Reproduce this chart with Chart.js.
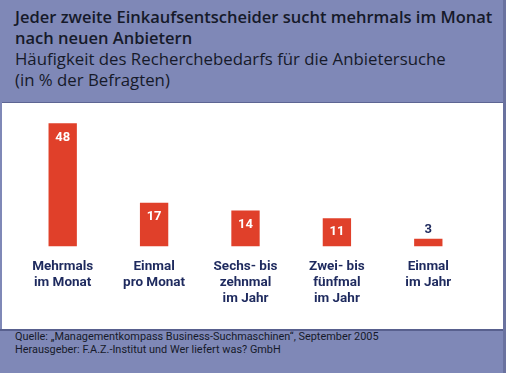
<!DOCTYPE html>
<html>
<head>
<meta charset="utf-8">
<script src="https://cdn.jsdelivr.net/npm/chart.js@4.4.1/dist/chart.umd.min.js"></script>
<style>
    body { margin: 0; background: #ffffff; }
    #frame {
        position: relative; width: 506px; height: 373px;
        background: #7f88b7; overflow: hidden;
        font-family: Roboto, "Noto Sans", sans-serif;
    }
    #head { position: absolute; left: 15px; top: 6px; color: #161a2a; font-family: "Open Sans", sans-serif;
            font-size: 16.8px; line-height: 21px; }
    #head .main { font-weight: 600; font-size: 16.5px; }
    #panel {
        position: absolute; left: 2px; top: 102px; width: 501px; height: 227px;
        background: #ffffff; border-top: 1px solid #5d6593;
    }
    #foot { position: absolute; top: 329px; left: 0; width: 491px; height: 44px; padding-left: 15px;
            border-top: 2px solid #58608e; color: #161a2a; font-size: 10.9px; line-height: 13px; }
    #foot .txt { position: relative; top: -1px; }
    #edge { position: absolute; left: 503px; top: 0; width: 3px; height: 373px; background: #6a729f; }
</style>
</head>
<body>
<div id="frame">
    <div id="head">
        <div class="main">Jeder zweite Einkaufsentscheider sucht mehrmals im Monat</div>
        <div class="main">nach neuen Anbietern</div>
        <div>Häufigkeit des Recherchebedarfs für die Anbietersuche</div>
        <div>(in % der Befragten)</div>
    </div>
    <div id="panel"><canvas id="chart"></canvas></div>
    <div id="foot"><div class="txt">
        <div>Quelle: „Managementkompass Business-Suchmaschinen“, September 2005</div>
        <div>Herausgeber: F.A.Z.-Institut und Wer liefert was? GmbH</div>
    </div></div>
    <div id="edge"></div>
</div>
<script>
// Data
const categories = [
    ['Mehrmals', 'im Monat'],
    ['Einmal', 'pro Monat'],
    ['Sechs- bis', 'zehnmal', 'im Jahr'],
    ['Zwei- bis', 'fünfmal', 'im Jahr'],
    ['Einmal', 'im Jahr']
];
const shares = [48, 17, 14, 11, 3];

const barRed = '#e0402a';
const navy = '#1e2a5e';

// Value labels: white inside tall bars, navy above the short one
const valueLabels = {
    id: 'valueLabels',
    afterDatasetsDraw(chart) {
        const ctx = chart.ctx;
        const meta = chart.getDatasetMeta(0);
        ctx.save();
        ctx.font = 'bold 13px Roboto, sans-serif';
        ctx.textAlign = 'center';
        ctx.textBaseline = 'middle';
        meta.data.forEach((bar, i) => {
            const v = shares[i];
            const h = bar.base - bar.y;
            if (h > 20) {
                ctx.fillStyle = '#ffffff';
                ctx.fillText(v, bar.x, bar.y + 14);
            } else {
                ctx.fillStyle = navy;
                ctx.fillText(v, bar.x, bar.y - 9);
            }
        });
        ctx.restore();
    }
};

const canvas = document.getElementById('chart');
canvas.width = 501;
canvas.height = 226;

new Chart(canvas, {
    type: 'bar',
    data: {
        labels: categories,
        datasets: [{
            data: shares,
            backgroundColor: barRed,
            borderWidth: 0,
            barPercentage: 0.31,
            categoryPercentage: 1
        }]
    },
    options: {
        responsive: false,
        animation: false,
        layout: { padding: { left: 15, right: 29, top: 10, bottom: 10 } },
        plugins: {
            legend: { display: false },
            tooltip: { enabled: false }
        },
        scales: {
            x: {
                grid: { display: false, drawTicks: false },
                border: { display: false },
                ticks: {
                    color: navy,
                    padding: 12,
                    font: { family: 'Roboto, sans-serif', size: 13.5, weight: 'bold', lineHeight: 1.2 }
                }
            },
            y: {
                display: false,
                min: 0,
                max: 52
            }
        }
    },
    plugins: [valueLabels]
});
</script>
</body>
</html>
